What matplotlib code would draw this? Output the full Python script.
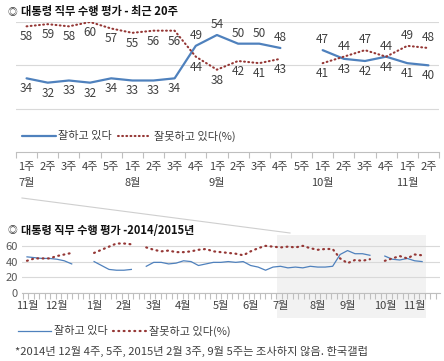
import numpy as np
import matplotlib
matplotlib.use('Agg')
import matplotlib.pyplot as plt
from matplotlib.lines import Line2D
from matplotlib.patches import Rectangle
from matplotlib.transforms import blended_transform_factory

plt.rcParams['font.family'] = ['Noto Sans CJK KR', 'DejaVu Sans']

# ---------------- data ----------------
title_top = "대통령 직무 수행 평가 - 최근 20주"
title_bottom = "대통령 직무 수행 평가 -2014/2015년"
series_names = ["잘하고 있다", "잘못하고 있다(%)"]
footnote = "*2014년 12월 4주, 5주, 2015년 2월 3주, 9월 5주는 조사하지 않음. 한국갤럽"

# top: last 20 weeks
week_labels = ['1주', '2주', '3주', '4주', '5주', '1주', '2주', '3주', '4주',
               '1주', '2주', '3주', '4주', '5주', '1주', '2주', '3주', '4주',
               '1주', '2주']
top_months = ['7월', '8월', '9월', '10월', '11월']

# bottom: weekly 2014-11 .. 2015-11
bottom_months = ['11월', '12월', '1월', '2월', '3월', '4월', '5월', '6월',
                 '7월', '8월', '9월', '10월', '11월']
weeks_per_month = [4, 5, 4, 4, 4, 5, 4, 4, 5, 4, 5, 4, 2]

nan = np.nan
approve = [46, 45, 44, 44, 43, 41, 37, nan, nan,
           40, 35, 30, 29, 29, 30, nan, 34,
           39, 39, 37, 38,
           41, 40, 35, 37, 39,
           39, 40, 39, 40,
           35, 33, 29, 33,
           34, 32, 33, 32, 34,
           33, 33, 34, 49,
           54, 50, 50, 48, nan,
           47, 43, 42, 44,
           41, 40]
disapprove = [41, 44, 44, 44, 47, 49, 51, nan, nan,
              51, 55, 59, 63, 63, 62, nan, 58,
              55, 53, 54, 52,
              52, 53, 55, 56, 53,
              52, 51, 50, 48,
              53, 57, 60, 59,
              58, 59, 58, 60, 57,
              55, 56, 56, 44,
              38, 42, 41, 43, nan,
              41, 44, 47, 44,
              49, 48]

approve = np.array(approve, dtype=float)
disapprove = np.array(disapprove, dtype=float)
n_top = len(week_labels)
top_a = approve[-n_top:]
top_d = disapprove[-n_top:]

# ---------------- style ----------------
BLUE = '#4f81bd'
RED = '#953735'
GRID = '#d9d9d9'
AXIS = '#bfbfbf'
TXT = '#404040'
DOTS_TOP = (0, (0.4, 1.6))
DOTS_BOT = (0, (0.4, 2.0))

W, H = 444, 361
fig = plt.figure(figsize=(W / 100, H / 100), dpi=100)


def fx(px):
    return px / W


def fy(py):
    return 1 - py / H


# ---------------- titles ----------------
fig.text(fx(7), fy(12), "◎", fontsize=7, va='center', ha='left', color='#333333')
fig.text(fx(21), fy(12), title_top, fontsize=8.1, fontweight='bold',
         va='center', ha='left', color='#111111')
fig.text(fx(7), fy(230), "◎", fontsize=7, va='center', ha='left', color='#333333')
fig.text(fx(21), fy(230), title_bottom, fontsize=8.0, fontweight='bold',
         va='center', ha='left', color='#111111')

# ---------------- top chart ----------------
ax1 = fig.add_axes([fx(16), fy(152), fx(439) - fx(16), fy(22) - fy(152)])
x = np.arange(n_top)
ax1.plot(x, top_a, color=BLUE, lw=1.6, solid_capstyle='round', zorder=3,
         label=series_names[0])
ax1.plot(x, top_d, color=RED, lw=1.5, linestyle=DOTS_TOP,
         dash_capstyle='round', zorder=3, label=series_names[1])
ax1.set_xlim(-0.5, n_top - 0.5)
ax1.set_ylim(0, 60)
ax1.set_yticks([20, 40, 60])
ax1.yaxis.grid(True, color=GRID, lw=0.8)
ax1.set_axisbelow(True)
ax1.tick_params(axis='y', length=0, labelleft=False)
for s in ['top', 'left', 'right']:
    ax1.spines[s].set_visible(False)
ax1.spines['bottom'].set_color(AXIS)
ax1.spines['bottom'].set_linewidth(0.8)
ax1.set_xticks(x)
ax1.set_xticklabels(week_labels, fontsize=8, color=TXT)
ax1.tick_params(axis='x', which='major', length=0, pad=7)
ax1.set_xticks(np.arange(n_top + 1) - 0.5, minor=True)
ax1.tick_params(axis='x', which='minor', length=4, color=AXIS, width=0.8)

tr1 = blended_transform_factory(ax1.transData, ax1.transAxes)
starts_top = [i for i, w in enumerate(week_labels) if w == '1주']
for m, i in zip(top_months, starts_top):
    ax1.text(i, -0.235, m, transform=tr1, ha='center', va='center',
             fontsize=8, color=TXT)

for i in range(n_top):
    a, d = top_a[i], top_d[i]
    if np.isnan(a):
        continue
    a_up = a > d
    d_up = (d >= a) and (d < 55)
    ax1.annotate(f"{a:.0f}", (i, a), xytext=(0, 7.5 if a_up else -7.5),
                 textcoords='offset points', ha='center', va='center',
                 fontsize=8.5, color=TXT, zorder=4)
    ax1.annotate(f"{d:.0f}", (i, d), xytext=(0, 7.5 if d_up else -7.5),
                 textcoords='offset points', ha='center', va='center',
                 fontsize=8.5, color=TXT, zorder=4)

ax1.legend(loc='center left', bbox_to_anchor=(0.015, 0.123), frameon=False,
           ncol=2, fontsize=8, handlelength=3.0, handletextpad=0.25,
           columnspacing=0.5, borderaxespad=0, borderpad=0,
           labelcolor=TXT)

# ---------------- bottom chart ----------------
ax2 = fig.add_axes([fx(22), fy(293), fx(440) - fx(22), fy(238) - fy(293)])
xb = np.arange(len(approve))
ax2.plot(xb, approve, color=BLUE, lw=0.9, zorder=3)
ax2.plot(xb, disapprove, color=RED, lw=1.6, linestyle=DOTS_BOT,
         dash_capstyle='round', zorder=3)
ax2.set_xlim(-0.67, 55.4)
ax2.set_ylim(0, 70)
ax2.set_yticks([0, 20, 40, 60])
ax2.set_yticklabels(['0', '20', '40', '60'], fontsize=8, color='#595959')
ax2.tick_params(axis='y', length=0, pad=3)
ax2.yaxis.grid(True, color=GRID, lw=0.8)
ax2.set_axisbelow(True)
for s in ['top', 'left', 'right']:
    ax2.spines[s].set_visible(False)
ax2.spines['bottom'].set_color(AXIS)
ax2.spines['bottom'].set_linewidth(0.8)

month_starts = np.concatenate([[0], np.cumsum(weeks_per_month)[:-1]])
ax2.set_xticks(month_starts)
ax2.set_xticklabels(bottom_months, fontsize=8, color=TXT)
ax2.tick_params(axis='x', which='major', length=0, pad=6)
ax2.set_xticks(np.arange(-0.54, 55.4, 0.738), minor=True)
ax2.tick_params(axis='x', which='minor', length=4, color=AXIS, width=0.8)

# highlight of the recent 20 weeks
tr2 = blended_transform_factory(ax2.transData, ax2.transAxes)
start_hl = len(approve) - n_top - 0.5
ax2.add_patch(Rectangle((start_hl, -0.456), n_top, 1.514, transform=tr2,
                        facecolor='#f2f2f2', edgecolor='none', zorder=0,
                        clip_on=False))

ax2.legend(handles=[Line2D([], [], color=BLUE, lw=0.9),
                    Line2D([], [], color=RED, lw=1.6, linestyle=DOTS_BOT,
                           dash_capstyle='round')],
           labels=series_names, loc='center left',
           bbox_to_anchor=(-0.01, -0.69), frameon=False, ncol=2, fontsize=8,
           handlelength=3.0, handletextpad=0.25, columnspacing=0.5,
           borderaxespad=0, borderpad=0, labelcolor=TXT)

# connector line from top chart to highlight
fig.add_artist(Line2D([fx(22), fx(290)], [fy(198), fy(233)], color='#cfcfcf',
                      lw=0.8, transform=fig.transFigure))

fig.text(fx(15), fy(351), footnote, fontsize=8.1, color=TXT, va='center',
         ha='left')

fig.savefig('out.png', dpi=100)
